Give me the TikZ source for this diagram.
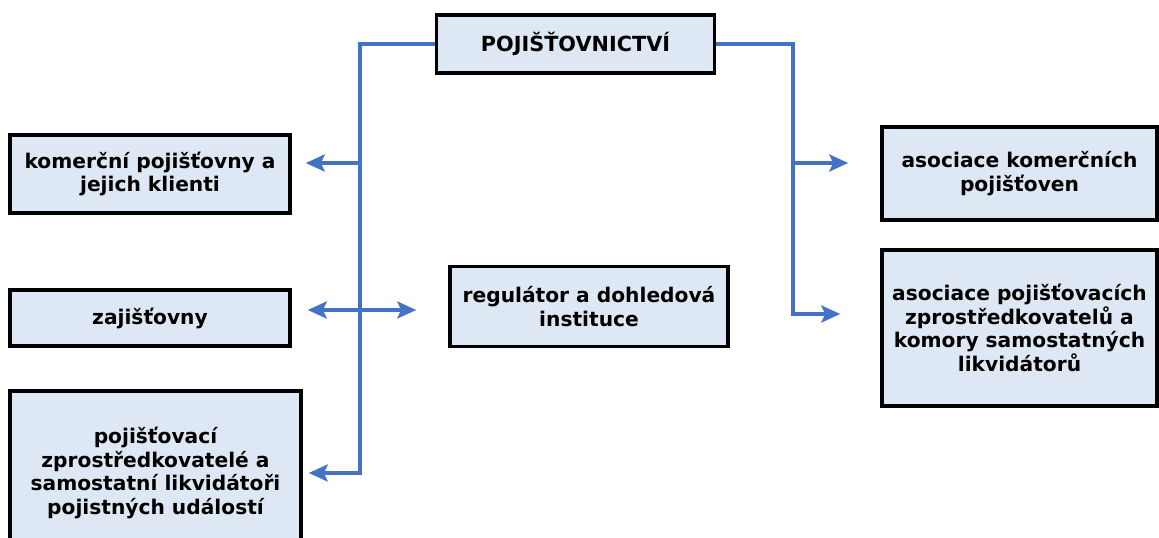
\documentclass[tikz,border=0pt]{standalone}
\usepackage{fontspec}
\setmainfont{DejaVu Sans}
\usetikzlibrary{arrows.meta,calc}
\definecolor{boxfill}{HTML}{DDE8F4}
\definecolor{linkblue}{HTML}{4472C4}
\begin{document}
\begin{tikzpicture}[x=1pt,y=-1pt,
  box/.style={draw=black,line width=3.5pt,fill=boxfill,align=center,
    inner sep=0pt,font=\bfseries\fontsize{20.2}{23.5}\selectfont},
  headtip/.tip={Stealth[length=19pt,width=17pt,inset=4pt]},
  link/.style={draw=linkblue,line width=4pt},
  arr/.style={link,-headtip},
  darr/.style={link,headtip-headtip}]
\useasboundingbox (0,0) rectangle (1159,538);
\clip (0,0) rectangle (1159,538);

% boxes
\node[box,minimum width=278pt,minimum height=58pt,font=\bfseries\fontsize{20.8}{23.5}\selectfont]
  (top) at (575.5,44) {POJIŠŤOVNICTVÍ};
\node[box,minimum width=280pt,minimum height=78pt] (L1) at (150,174)
  {komerční pojišťovny a\\jejich klienti};
\node[box,minimum width=280pt,minimum height=56pt] (L2) at (150,318) {zajišťovny};
\node[box,minimum width=291pt,minimum height=164pt] (L3) at (155.5,473)
  {pojišťovací\\zprostředkovatelé a\\samostatní likvidátoři\\pojistných událostí};
\node[box,minimum width=278pt,minimum height=80pt] (M) at (589,306.5)
  {regulátor a dohledová\\instituce};
\node[box,minimum width=275pt,minimum height=93pt] (R1) at (1019.5,173.5)
  {asociace komerčních\\pojišťoven};
\node[box,minimum width=275pt,minimum height=156pt] (R2) at (1019.5,328)
  {asociace pojišťovacích\\zprostředkovatelů a\\komory samostatných\\likvidátorů};

% branch points on the two spines
\coordinate (sl1) at (360,163);
\coordinate (sl2) at (360,310);
\coordinate (sl3) at (360,473);
\coordinate (sr1) at (793,163);
\coordinate (sr2) at (793,314);

% left spine
\draw[arr,shorten >=6pt] (top.west) -| (sl3) -- (L3.east |- sl3);
\draw[arr,shorten >=14pt] (sl1) -- (L1.east |- sl1);
\draw[darr,shorten <=16pt,shorten >=32pt] (L2.east |- sl2) -- (M.west |- sl2);

% right spine
\draw[arr,shorten >=40pt] (top.east) -| (sr2) -- (R2.west |- sr2);
\draw[arr,shorten >=32pt] (sr1) -- (R1.west |- sr1);
\end{tikzpicture}
\end{document}
